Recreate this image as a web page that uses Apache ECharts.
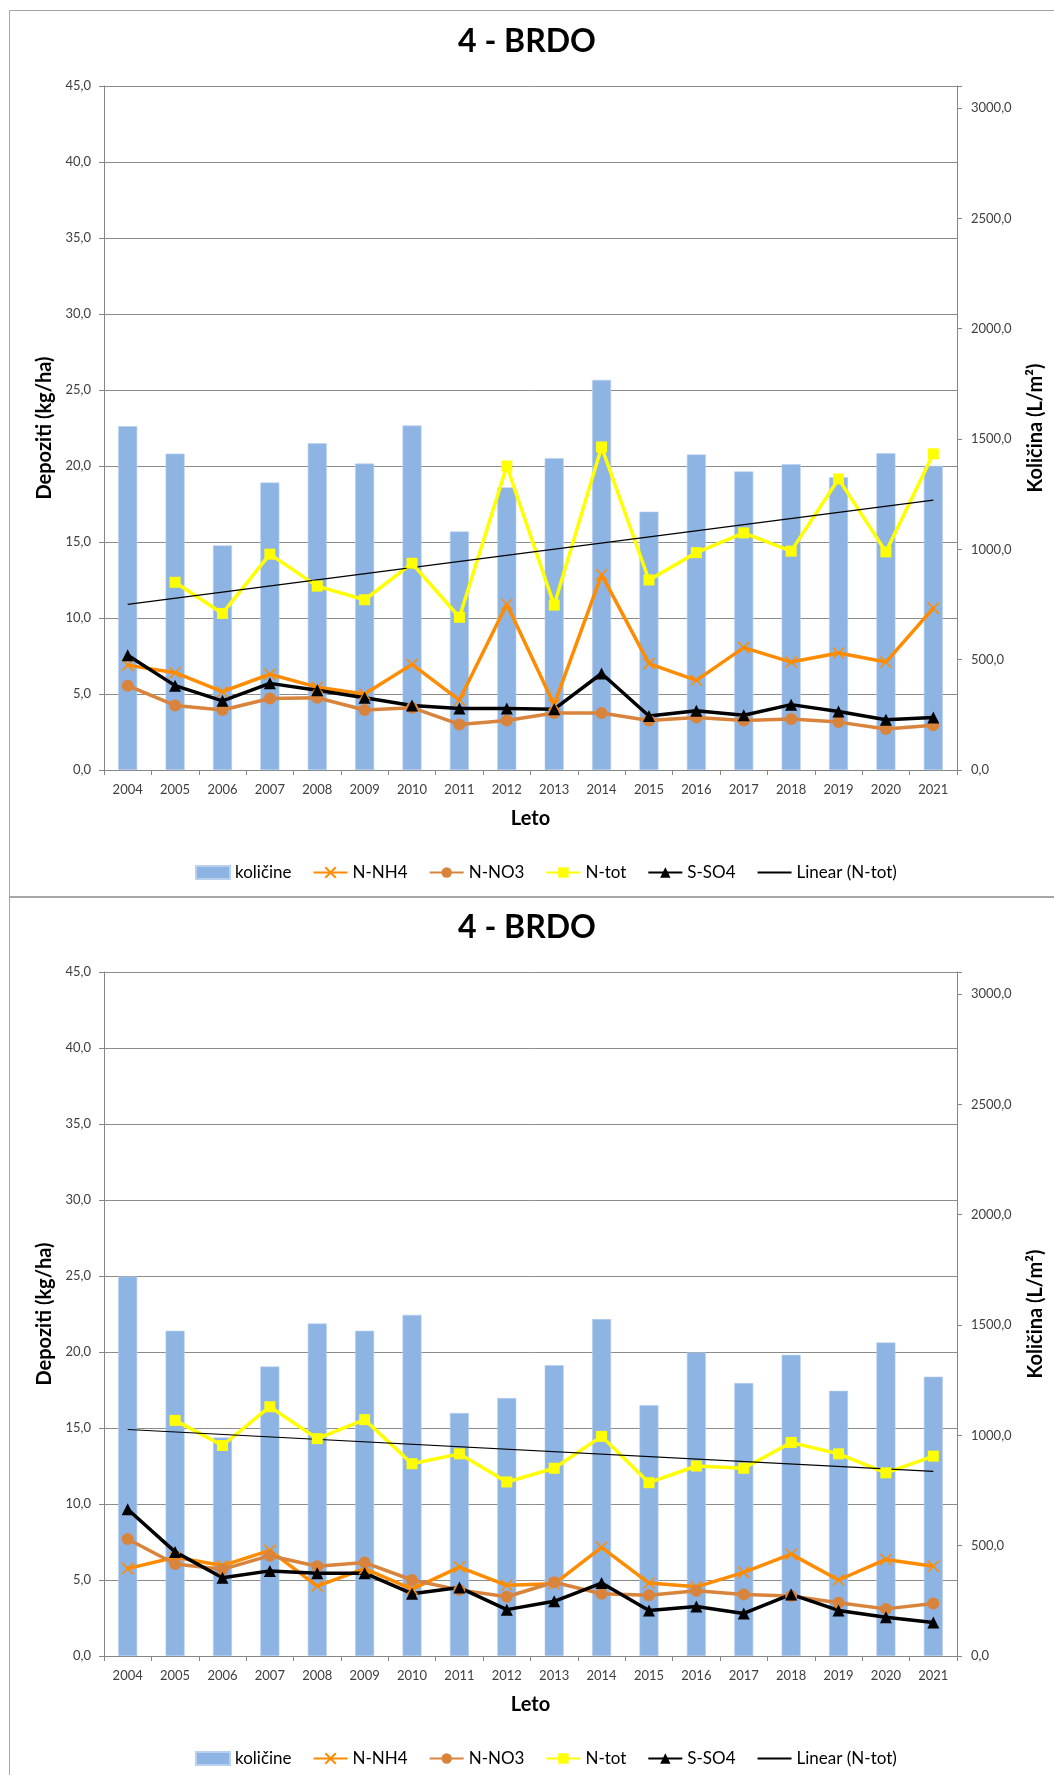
<!DOCTYPE html>
<html>
<head>
<meta charset="utf-8">
<script src="https://cdn.jsdelivr.net/npm/echarts@6/dist/echarts.min.js"></script>
<style>
  html, body { margin: 0; padding: 0; width: 1054px; height: 1775px; overflow: hidden; background: #fff; }
  .box { position: absolute; left: 9px; width: 1100px; border: 1px solid #a6a6a6; }
  .chart { position: absolute; left: 0; width: 1054px; }
</style>
</head>
<body>
<div class="box" style="top:10px;height:885px"></div>
<div class="box" style="top:897px;height:900px"></div>
<div id="c1" class="chart" style="top:0;height:887px"></div>
<div id="c2" class="chart" style="top:886px;height:889px"></div>
<script>
// leta (kategorije)
const years = ['2004', '2005', '2006', '2007', '2008', '2009', '2010', '2011', '2012',
  '2013', '2014', '2015', '2016', '2017', '2018', '2019', '2020', '2021']

// zgornji graf
const kolicine1 = [1558, 1434, 1018, 1303, 1481, 1389, 1561, 1081, 1281, 1413, 1768, 1171, 1430, 1353, 1386, 1327, 1436, 1379]
const nh41 = [6.9, 6.4, 5.15, 6.3, 5.45, 5.0, 6.95, 4.6, 10.9, 4.3, 12.85, 7.0, 5.9, 8.05, 7.1, 7.7, 7.1, 10.65]
const no31 = [5.55, 4.25, 3.95, 4.7, 4.75, 3.95, 4.1, 3.0, 3.25, 3.75, 3.75, 3.25, 3.45, 3.25, 3.35, 3.15, 2.7, 2.95]
const ntot1 = [null, 12.35, 10.3, 14.2, 12.1, 11.2, 13.6, 10.05, 20.0, 10.85, 21.25, 12.5, 14.3, 15.6, 14.4, 19.15, 14.35, 20.8]
const so41 = [7.55, 5.55, 4.55, 5.7, 5.25, 4.75, 4.25, 4.05, 4.05, 4.0, 6.35, 3.55, 3.9, 3.6, 4.3, 3.85, 3.3, 3.45]
const trend1 = [10.9, 17.75] // Linear (N-tot): zacetek 2004, konec 2021

// spodnji graf
const kolicine2 = [1720, 1474, 990, 1312, 1507, 1474, 1546, 1101, 1169, 1318, 1527, 1137, 1376, 1237, 1365, 1202, 1421, 1266]
const nh42 = [5.75, 6.5, 5.95, 6.95, 4.6, 5.75, 4.4, 5.85, 4.65, 4.75, 7.15, 4.8, 4.55, 5.5, 6.7, 5.0, 6.35, 5.9]
const no32 = [7.7, 6.05, 5.7, 6.6, 5.9, 6.15, 5.0, 4.35, 3.9, 4.85, 4.1, 4.0, 4.3, 4.05, 3.95, 3.5, 3.1, 3.45]
const ntot2 = [null, 15.5, 13.85, 16.4, 14.3, 15.55, 12.65, 13.3, 11.45, 12.35, 14.45, 11.4, 12.5, 12.35, 14.05, 13.3, 12.05, 13.15]
const so42 = [9.65, 6.85, 5.15, 5.6, 5.45, 5.45, 4.1, 4.5, 3.05, 3.6, 4.8, 3.0, 3.25, 2.8, 4.05, 3.0, 2.55, 2.2]
const trend2 = [14.9, 12.15]

const FONT = 'Lato, "Open Sans", sans-serif'
const fmt = v => v.toFixed(1).replace('.', ',')
const AXIS_GRAY = '#868686'

function buildOption (title, kol, nh4, no3, ntot, so4, trend) {
  return {
    animation: false,
    textStyle: { fontFamily: FONT },
    title: {
      text: title,
      left: 'center',
      top: 21,
      textStyle: { fontSize: 32, fontWeight: 'bold', color: '#000', fontFamily: FONT }
    },
    legend: {
      top: 859,
      left: 190,
      itemWidth: 34,
      itemHeight: 13,
      itemGap: 21,
      textStyle: { fontSize: 17, color: '#000', fontFamily: FONT },
      data: [
        { name: 'količine', icon: 'rect' },
        'N-NH4', 'N-NO3', 'N-tot', 'S-SO4',
        { name: 'Linear (N-tot)', itemStyle: { opacity: 0 } }
      ]
    },
    grid: { left: 104, top: 86, width: 853, height: 684 },
    xAxis: {
      type: 'category',
      data: years,
      boundaryGap: true,
      name: 'Leto',
      nameLocation: 'middle',
      nameGap: 39,
      nameTextStyle: { fontSize: 20, fontWeight: 'bold', color: '#000' },
      axisLine: { lineStyle: { color: AXIS_GRAY, width: 1 } },
      axisTick: { show: true, length: 5, lineStyle: { color: AXIS_GRAY } },
      axisLabel: { interval: 0, fontSize: 13, color: '#404040', margin: 13 }
    },
    yAxis: [
      {
        type: 'value',
        min: 0,
        max: 45,
        interval: 5,
        name: 'Depoziti (kg/ha)',
        nameLocation: 'middle',
        nameRotate: 90,
        nameGap: 48,
        nameTextStyle: { fontSize: 20, fontWeight: 'bold', color: '#000' },
        axisLine: { show: true, lineStyle: { color: AXIS_GRAY } },
        axisTick: { show: true, length: 5, lineStyle: { color: AXIS_GRAY } },
        axisLabel: { formatter: fmt, fontSize: 13, color: '#404040', margin: 13 },
        splitLine: { lineStyle: { color: '#8c8c8c', width: 1 } }
      },
      {
        type: 'value',
        position: 'right',
        min: 0,
        max: 3100,
        interval: 500,
        name: 'Količina (L/m²)',
        nameLocation: 'middle',
        nameRotate: 90,
        nameGap: 69,
        nameTextStyle: { fontSize: 20, fontWeight: 'bold', color: '#000' },
        axisLine: { show: true, lineStyle: { color: AXIS_GRAY } },
        axisTick: { show: true, length: 5, lineStyle: { color: AXIS_GRAY } },
        axisLabel: {
          formatter: v => (v % 500 === 0 ? fmt(v) : ''),
          fontSize: 13,
          color: '#404040',
          margin: 14
        },
        splitLine: { show: false }
      }
    ],
    series: [
      {
        name: 'količine',
        type: 'bar',
        yAxisIndex: 1,
        data: kol,
        barWidth: 19,
        itemStyle: { color: '#8eb4e3', borderColor: '#b9d0ee', borderWidth: 0.6 }
      },
      {
        name: 'N-NH4',
        type: 'line',
        data: nh4,
        symbol: 'path://M0,0L10,10M10,0L0,10',
        symbolSize: 11,
        lineStyle: { color: '#ff8c00', width: 3.5 },
        itemStyle: { color: '#ff8c00', borderColor: '#ff8c00', borderWidth: 1.5 }
      },
      {
        name: 'N-NO3',
        type: 'line',
        data: no3,
        symbol: 'circle',
        symbolSize: 12,
        lineStyle: { color: '#d9843d', width: 3.5 },
        itemStyle: { color: '#d9843d' }
      },
      {
        name: 'N-tot',
        type: 'line',
        data: ntot,
        symbol: 'rect',
        symbolSize: 11,
        lineStyle: { color: '#ffff00', width: 3.5 },
        itemStyle: { color: '#ffff00' }
      },
      {
        name: 'S-SO4',
        type: 'line',
        data: so4,
        symbol: 'triangle',
        symbolSize: 12,
        lineStyle: { color: '#000', width: 3.5 },
        itemStyle: { color: '#000' }
      },
      {
        name: 'Linear (N-tot)',
        type: 'line',
        data: [[0, trend[0]], [years.length - 1, trend[1]]],
        symbol: 'none',
        lineStyle: { color: '#000', width: 1.2 },
        itemStyle: { color: '#000' }
      }
    ]
  }
}

const chart1 = echarts.init(document.getElementById('c1'), null, { renderer: 'canvas' })
chart1.setOption(buildOption('4 - BRDO', kolicine1, nh41, no31, ntot1, so41, trend1))

const chart2 = echarts.init(document.getElementById('c2'), null, { renderer: 'canvas' })
chart2.setOption(buildOption('4 - BRDO', kolicine2, nh42, no32, ntot2, so42, trend2))
</script>
</body>
</html>
